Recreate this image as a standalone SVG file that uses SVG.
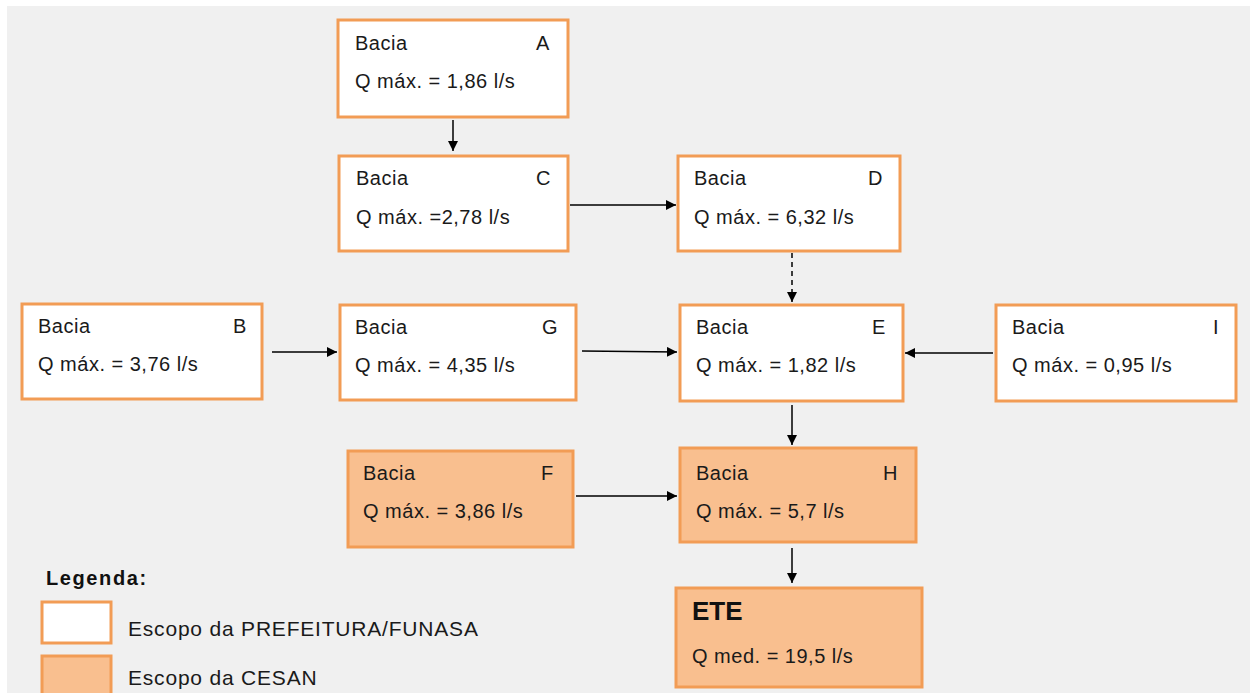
<svg xmlns="http://www.w3.org/2000/svg" width="1252" height="693" viewBox="0 0 1252 693">
<defs>
<style>
.box{fill:#ffffff;stroke:#F29C55;stroke-width:3}
.org{fill:#F9BF8F;stroke:#F29C55;stroke-width:3}
.t{font-family:"Liberation Sans",Arial,sans-serif;font-size:20px;fill:#1a1a1a;letter-spacing:0.5px}
.b{font-family:"Liberation Sans",Arial,sans-serif;font-weight:bold;fill:#111}
.lg{font-family:"Liberation Sans",Arial,sans-serif;font-size:21px;fill:#1a1a1a;letter-spacing:0.8px}
.c{stroke:#000;stroke-width:1.5;fill:none}
</style>
<marker id="ah" viewBox="0 0 10 10" refX="10" refY="5" markerWidth="10" markerHeight="10" markerUnits="userSpaceOnUse" orient="auto">
<path d="M0,0 L10,5 L0,10 z" fill="#000"/>
</marker>
</defs>
<rect x="0" y="0" width="1252" height="693" fill="#ffffff"/>
<rect x="7" y="6" width="1243" height="687" fill="#f0f0f0"/>

<g id="connectors">
<line class="c" x1="453" y1="120" x2="453" y2="151" marker-end="url(#ah)"/>
<line class="c" x1="570" y1="205" x2="676" y2="205" marker-end="url(#ah)"/>
<line class="c" x1="792" y1="253" x2="792" y2="302" stroke-dasharray="5,4" marker-end="url(#ah)"/>
<line class="c" x1="272" y1="352" x2="337" y2="352" marker-end="url(#ah)"/>
<line class="c" x1="582" y1="351" x2="677" y2="352" marker-end="url(#ah)"/>
<line class="c" x1="993" y1="353" x2="905" y2="353" marker-end="url(#ah)"/>
<line class="c" x1="792" y1="405" x2="792" y2="445" marker-end="url(#ah)"/>
<line class="c" x1="576" y1="496" x2="677" y2="496" marker-end="url(#ah)"/>
<line class="c" x1="792" y1="548" x2="792" y2="583" marker-end="url(#ah)"/>
</g>

<g id="node-A">
<rect class="box" x="338" y="20" width="230" height="97"/>
<text class="t" x="355" y="50">Bacia</text>
<text class="t" x="536" y="50">A</text>
<text class="t" x="355" y="88">Q máx. = 1,86 l/s</text>
</g>
<g id="node-C">
<rect class="box" x="339" y="156" width="229" height="95"/>
<text class="t" x="356" y="185">Bacia</text>
<text class="t" x="536" y="185">C</text>
<text class="t" x="356" y="224">Q máx. =2,78 l/s</text>
</g>
<g id="node-D">
<rect class="box" x="678" y="156" width="222" height="95"/>
<text class="t" x="694" y="185">Bacia</text>
<text class="t" x="868" y="185">D</text>
<text class="t" x="694" y="224">Q máx. = 6,32 l/s</text>
</g>
<g id="node-B">
<rect class="box" x="22" y="304" width="240" height="95"/>
<text class="t" x="38" y="333">Bacia</text>
<text class="t" x="233" y="333">B</text>
<text class="t" x="38" y="371">Q máx. = 3,76 l/s</text>
</g>
<g id="node-G">
<rect class="box" x="340" y="305" width="236" height="95"/>
<text class="t" x="355" y="334">Bacia</text>
<text class="t" x="542" y="334">G</text>
<text class="t" x="355" y="372">Q máx. = 4,35 l/s</text>
</g>
<g id="node-E">
<rect class="box" x="680" y="305" width="223" height="96"/>
<text class="t" x="696" y="334">Bacia</text>
<text class="t" x="872" y="334">E</text>
<text class="t" x="696" y="372">Q máx. = 1,82 l/s</text>
</g>
<g id="node-I">
<rect class="box" x="996" y="305" width="240" height="96"/>
<text class="t" x="1012" y="334">Bacia</text>
<text class="t" x="1213" y="334">I</text>
<text class="t" x="1012" y="372">Q máx. = 0,95 l/s</text>
</g>
<g id="node-F">
<rect class="org" x="348" y="451" width="225" height="96"/>
<text class="t" x="363" y="480">Bacia</text>
<text class="t" x="541" y="480">F</text>
<text class="t" x="363" y="518">Q máx. = 3,86 l/s</text>
</g>
<g id="node-H">
<rect class="org" x="680" y="448" width="236" height="94"/>
<text class="t" x="696" y="480">Bacia</text>
<text class="t" x="883" y="480">H</text>
<text class="t" x="696" y="518">Q máx. = 5,7 l/s</text>
</g>
<g id="node-ETE">
<rect class="org" x="676" y="588" width="246" height="99"/>
<text class="b" x="692" y="620" font-size="26">ETE</text>
<text class="t" x="692" y="663">Q med. = 19,5 l/s</text>
</g>

<g id="legend">
<text class="b" x="46" y="585" font-size="20" letter-spacing="1.6">Legenda:</text>
<rect class="box" x="42" y="602" width="69" height="41"/>
<text class="lg" x="128" y="636">Escopo da PREFEITURA/FUNASA</text>
<rect class="org" x="42" y="656" width="69" height="40"/>
<text class="lg" x="128" y="685">Escopo da CESAN</text>
</g>
</svg>
